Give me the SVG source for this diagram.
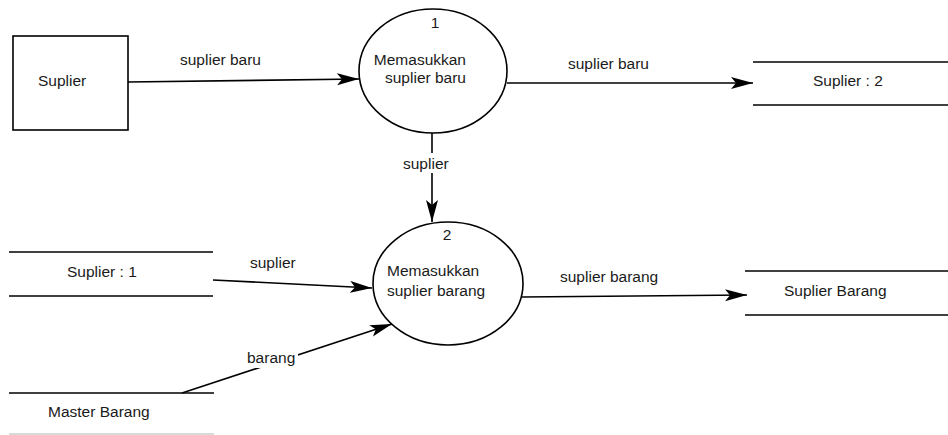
<svg xmlns="http://www.w3.org/2000/svg" width="948" height="435" viewBox="0 0 948 435">
<style>
  text { font-family: "Liberation Sans", Arial, sans-serif; font-size: 15.5px; fill: #1a1a1a; }
  .shape { fill: #fff; stroke: #000; stroke-width: 1.6; }
  .store { stroke: #000; stroke-width: 1.6; fill: none; }
  .flow { stroke: #000; stroke-width: 1.6; fill: none; marker-end: url(#arrow); }
  .bg { fill: #fff; stroke: none; }
</style>
<defs>
  <marker id="arrow" markerUnits="userSpaceOnUse" markerWidth="24" markerHeight="14" viewBox="0 0 24 14" refX="22" refY="6" orient="auto">
    <path d="M0,0 L22,6 L0,12 L5,6 Z" fill="#000"/>
  </marker>
</defs>
<rect width="948" height="435" fill="#fff"/>

<g id="connectors">
  <line class="flow" x1="128" y1="82" x2="359" y2="79"/>
  <text x="180" y="65">suplier baru</text>
  <line class="flow" x1="507" y1="83" x2="753" y2="83"/>
  <text x="568" y="69">suplier baru</text>
  <line class="flow" x1="432" y1="133" x2="432" y2="222"/>
  <rect class="bg" x="402" y="153" width="49" height="20"/>
  <text x="403" y="169">suplier</text>
  <line class="flow" x1="213" y1="280" x2="372" y2="288"/>
  <text x="250" y="268">suplier</text>
  <line class="flow" x1="182" y1="393" x2="392" y2="324"/>
  <rect class="bg" x="244" y="346" width="54" height="22"/>
  <text x="247" y="363">barang</text>
  <line class="flow" x1="522" y1="297" x2="747" y2="295"/>
  <text x="560" y="282">suplier barang</text>
</g>

<g id="suplier">
  <rect class="shape" x="13" y="36" width="115" height="94"/>
  <text x="38" y="86">Suplier</text>
</g>

<g id="proses1">
  <ellipse class="shape" cx="433" cy="71" rx="74" ry="62"/>
  <text x="435" y="28" text-anchor="middle">1</text>
  <text x="466" y="65" text-anchor="end">Memasukkan</text>
  <text x="466" y="83" text-anchor="end">suplier baru</text>
</g>

<g id="proses2">
  <ellipse class="shape" cx="448" cy="283.5" rx="75" ry="61.5"/>
  <text x="447" y="240" text-anchor="middle">2</text>
  <text x="387" y="276">Memasukkan</text>
  <text x="387" y="296">suplier barang</text>
</g>

<g id="store-suplier2">
  <line class="store" x1="753" y1="62" x2="948" y2="62"/>
  <line class="store" x1="753" y1="105" x2="948" y2="105"/>
  <text x="813" y="86">Suplier : 2</text>
</g>

<g id="store-suplier1">
  <line class="store" x1="9" y1="252" x2="213" y2="252"/>
  <line class="store" x1="9" y1="296" x2="213" y2="296"/>
  <text x="67" y="277">Suplier : 1</text>
</g>

<g id="store-master-barang">
  <line class="store" x1="9" y1="393" x2="214" y2="393"/>
  <line x1="9" y1="434" x2="214" y2="434" stroke="#cccccc" stroke-width="1.6"/>
  <text x="48" y="417">Master Barang</text>
</g>

<g id="store-suplier-barang">
  <line class="store" x1="745" y1="271" x2="948" y2="271"/>
  <line class="store" x1="745" y1="315" x2="948" y2="315"/>
  <text x="784" y="296">Suplier Barang</text>
</g>
</svg>
